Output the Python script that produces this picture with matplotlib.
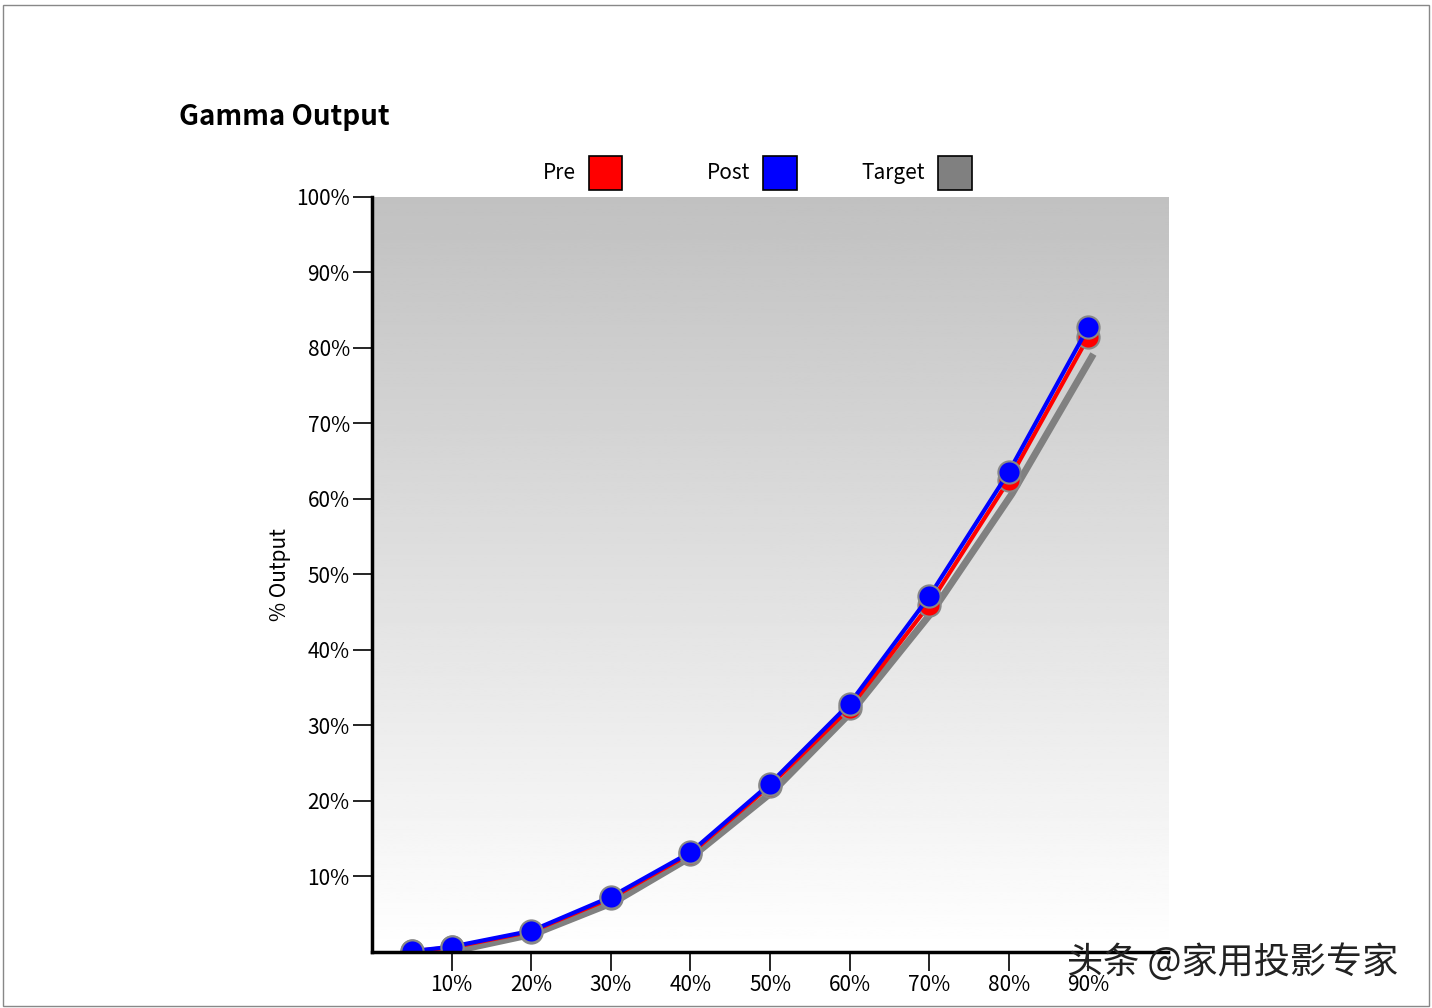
import matplotlib
matplotlib.use('Agg')
import matplotlib.pyplot as plt
import numpy as np
from matplotlib.patches import Rectangle

plt.rcParams['font.family'] = ['Noto Sans CJK SC', 'DejaVu Sans']

stimulus = [5, 10, 20, 30, 40, 50, 60, 70, 80, 90]
pre = [0.1, 0.6, 2.7, 7.1, 13.0, 22.0, 32.3, 46.0, 62.5, 81.5]
post = [0.1, 0.7, 2.8, 7.3, 13.2, 22.3, 32.9, 47.1, 63.6, 82.8]
target = [0.14, 0.63, 2.9, 7.1, 13.3, 21.8, 32.5, 45.6, 61.2, 79.3]
y_ticks = [10, 20, 30, 40, 50, 60, 70, 80, 90, 100]
x_ticks = [10, 20, 30, 40, 50, 60, 70, 80, 90]

fig = plt.figure(figsize=(14.32, 10.08), dpi=100)
fig.patches.append(Rectangle((0.002, 0.002), 0.996, 0.993, transform=fig.transFigure,
                             fill=False, edgecolor='#888888', lw=1))
ax = fig.add_axes([0.2598, 0.0556, 0.5559, 0.749])

grad = np.linspace(1, 0, 256).reshape(-1, 1)
ax.imshow(grad, extent=[0, 100, 0, 100], aspect='auto', cmap='gray',
          vmin=-3.1, vmax=1, origin='lower', zorder=0)

ax.plot(np.array(stimulus) + 0.4, np.array(target) - 0.5, color='#808080', lw=5, zorder=2)
ax.plot(stimulus, pre, color='red', lw=3, marker='o', ms=16, mfc='red', mec='#888888', mew=1.5, zorder=3)
ax.plot(stimulus, post, color='blue', lw=3, marker='o', ms=16, mfc='blue', mec='#888888', mew=1.5, zorder=4)

ax.set_xlim(0, 100)
ax.set_ylim(0, 100)
ax.set_yticks(y_ticks)
ax.set_yticklabels([f'{v}%' for v in y_ticks], fontsize=15)
ax.set_xticks(x_ticks)
ax.set_xticklabels([f'{v}%' for v in x_ticks], fontsize=15)
ax.tick_params(length=14, width=1.2, direction='out', pad=2)
for s in ['top', 'right']:
    ax.spines[s].set_visible(False)
for s in ['left', 'bottom']:
    ax.spines[s].set_linewidth(2.5)
ax.set_ylabel('% Output', fontsize=15)
for sp in ax.spines.values():
    sp.set_zorder(6)

fig.text(0.125, 0.884, 'Gamma Output', fontsize=20, fontweight='bold', va='center')

legend = [('Pre', 'red', 0.402, 0.411), ('Post', 'blue', 0.524, 0.533), ('Target', '#808080', 0.646, 0.655)]
for name, col, tx, bx in legend:
    fig.text(tx, 0.828, name, fontsize=15, ha='right', va='center')
    fig.patches.append(Rectangle((bx, 0.812), 0.0237, 0.033, transform=fig.transFigure,
                                 facecolor=col, edgecolor='black', lw=1.2))

fig.text(0.745, 0.045, '头条 @家用投影专家', fontsize=26, color='#222222', va='center')

fig.savefig('out.png', dpi=100)
